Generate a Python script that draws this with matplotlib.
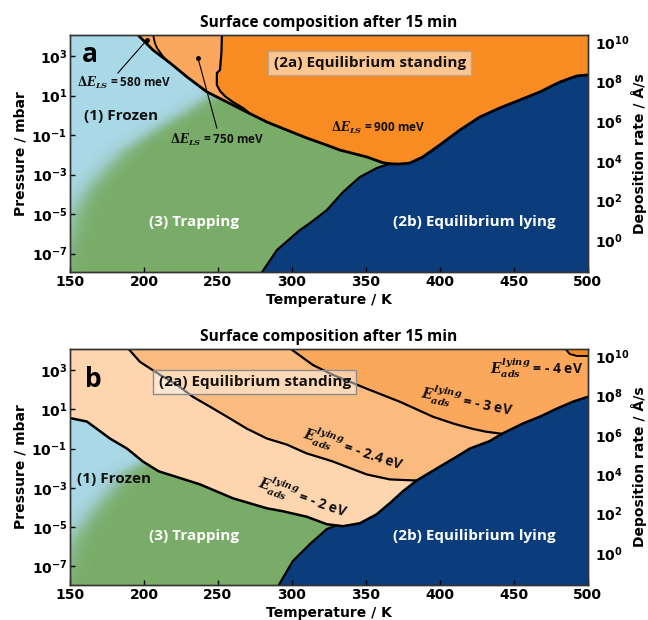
import numpy as np
import matplotlib
matplotlib.use("Agg")
import matplotlib.pyplot as plt
from matplotlib.colors import LinearSegmentedColormap
from matplotlib.ticker import FixedLocator, FixedFormatter, NullLocator

plt.rcParams.update({
    "font.family": ["DejaVu Sans"],
    "mathtext.fontset": "custom",
    "mathtext.rm": "DejaVu Serif:bold",
    "mathtext.it": "DejaVu Serif:italic:bold",
    "mathtext.bf": "DejaVu Serif:bold",
    "mathtext.sf": "DejaVu Sans:bold",
})

LABEL_FONT = ["Open Sans", "DejaVu Sans"]

# ---------------------------------------------------------------- ranges
T_MIN, T_MAX = 150, 500
LP_MIN, LP_MAX = -7.94, 4.06          # log10(p / mbar)
RATE_SHIFT = 6.3                      # log10(rate / (Å/s)) - log10(p / mbar)

# ---------------------------------------------------------------- colours
C_FROZEN = "#A9D8E7"
C_TRAP = "#79AC68"
C_LYING = "#0B3D7D"
C_STAND = "#F98B23"
C_STAND_LIGHT = "#FBA85E"
C_PEACH = "#FDD5AE"
C_PEACH_MID = "#FCBB7E"
C_PEACH_DARK = "#FBA75C"

# ================================================================ panel a
# boundary of the standing phase (frozen/trapping side, then lying side)
a_stand_T = [195.5, 197.3, 206.1, 217.6, 229.1, 242.6, 256.1, 269.6, 283.1,
             296.6, 310.1, 323.6, 332.4, 350.7, 361.5, 366.2, 372.0, 379.7,
             388.5, 400.0, 413.5, 427.0, 440.5, 454.0, 467.6, 481.1, 492.6, 500.0]
a_stand_lp = [4.10, 3.96, 3.30, 2.65, 1.94, 1.18, 0.67, 0.16, -0.34,
              -0.75, -1.15, -1.51, -1.76, -2.11, -2.40, -2.45, -2.47, -2.42,
              -2.11, -1.50, -0.75, -0.09, 0.37, 0.77, 1.18, 1.68, 1.99, 2.04]
a_join_T = 366.2

# trapping / lying boundary
a_lying_T = [278.4, 289.9, 305.4, 312.2, 323.6, 334.5, 345.9, 357.4, 366.2]
a_lying_lp = [-8.10, -6.82, -5.81, -5.46, -4.80, -3.89, -3.13, -2.67, -2.45]

# ΔE_LS = 900 meV boundary
a_900_T = [252.7, 252.4, 251.4, 249.3, 249.3, 251.5, 255.0, 260.1, 266.9, 271.6]
a_900_lp = [4.10, 3.20, 2.29, 2.14, 1.53, 1.22, 0.95, 0.67, 0.37, 0.09]

# ΔE_LS = 580 meV boundary
a_580_T = [206.1, 207.4, 208.8, 212.2, 216.2, 217.6]
a_580_lp = [4.10, 3.66, 3.41, 3.05, 2.70, 2.65]

# frozen -> trapping crossover (soft)
a_frozen_T = [262.0, 246.6, 224.3, 204.1, 187.2, 173.6, 162.2, 154.1, 150.0, 140.0]
a_frozen_lp = [2.00, 1.03, 0.01, -0.90, -1.76, -2.77, -3.78, -4.80, -5.81, -8.00]

# marker dots for ΔE_LS labels: (T, log p) of dot, (T, log p) of label end
a_dot580 = (202.0, 3.81)
a_tail580 = (182.4, 2.14)
a_dot750 = (236.5, 2.90)
a_tail750 = (249.3, -0.65)

# ================================================================ panel b
# E_ads = -2 eV boundary (lower edge of standing phase)
b_stand_T = [150.0, 152.0, 161.5, 177.0, 188.5, 199.3, 210.0, 237.8, 260.1,
             283.1, 293.9, 310.1, 323.6, 334.5, 346.0, 357.4, 366.2, 375.0,
             384.5, 398.0, 411.5, 420.3, 433.8, 442.0, 456.1, 467.6, 479.1,
             489.9, 500.0]
b_stand_lp = [0.55, 0.52, 0.37, -0.49, -1.00, -1.66, -2.16, -2.82, -3.53,
              -4.04, -4.19, -4.47, -4.85, -4.95, -4.80, -4.34, -3.78, -3.18,
              -2.62, -2.01, -1.41, -1.00, -0.62, -0.25, 0.27, 0.62, 1.03,
              1.38, 1.63]

b_lying_T = [289.9, 300.7, 312.2, 323.6, 330.0]
b_lying_lp = [-8.10, -6.72, -5.86, -5.10, -4.91]
b_join_T = 330.0

b_24_T = [189.2, 197.3, 210.8, 222.3, 233.1, 244.6, 256.1, 269.6, 283.1,
          296.6, 310.1, 323.6, 327.7, 350.7, 366.2, 381.8, 384.5]
b_24_lp = [4.10, 3.41, 2.75, 2.24, 1.63, 1.13, 0.62, 0.01, -0.49,
           -0.80, -1.25, -1.56, -1.66, -2.32, -2.57, -2.62, -2.62]

b_3_T = [298.6, 314.2, 323.6, 327.7, 350.7, 373.0, 395.3, 410.0, 422.3, 431.0, 442.0]
b_3_lp = [4.10, 3.25, 2.90, 2.75, 2.04, 1.38, 0.62, 0.25, 0.00, -0.14, -0.25]

b_4_T = [484.5, 487.8, 492.6, 500.0]
b_4_lp = [4.10, 3.81, 3.71, 3.71]

b_frozen_T = [205.0, 188.5, 177.0, 165.5, 156.8, 151.4, 140.0]
b_frozen_lp = [-1.50, -2.16, -3.18, -4.19, -5.05, -5.71, -8.00]

# ---------------------------------------------------------------- ticks
x_ticks = [150, 200, 250, 300, 350, 400, 450, 500]
p_ticks = [-7, -5, -3, -1, 1, 3]
rate_ticks = [0, 2, 4, 6, 8, 10]


def dec_label(n):
    return r"$\mathsf{10^{%d}}$" % n


def P(lp):
    return 10.0 ** np.asarray(lp, dtype=float)


cmap_ft = LinearSegmentedColormap.from_list("frozen_trap", [C_FROZEN, C_TRAP])


def soft_background(ax, edge_T, edge_lp, width=4.5):
    T = np.linspace(T_MIN, T_MAX, 500)
    lp = np.linspace(LP_MIN, LP_MAX, 400)
    TT, LL = np.meshgrid(T, lp)
    order = np.argsort(edge_lp)
    Te = np.interp(LL, np.asarray(edge_lp)[order], np.asarray(edge_T)[order])
    s = 1.0 / (1.0 + np.exp(-(TT - Te) / width))
    ax.pcolormesh(T, P(lp), s, cmap=cmap_ft, vmin=0, vmax=1,
                  shading="gouraud", zorder=0, rasterized=True)


def region(ax, T, lp, color):
    ax.fill(T, P(lp), color=color, lw=0, zorder=1)


def edge(ax, T, lp, lw=1.8):
    ax.plot(T, P(lp), color="black", lw=lw, zorder=3,
            solid_capstyle="round", solid_joinstyle="round")


def tail(T, lp, T_from):
    T = np.asarray(T)
    lp = np.asarray(lp)
    m = T >= T_from
    return list(T[m]), list(lp[m])


def style_axes(ax):
    ax.set_xlim(T_MIN, T_MAX)
    ax.set_yscale("log")
    ax.set_ylim(P(LP_MIN), P(LP_MAX))
    ax.xaxis.set_major_locator(FixedLocator(x_ticks))
    ax.yaxis.set_major_locator(FixedLocator([10.0 ** t for t in p_ticks]))
    ax.yaxis.set_major_formatter(FixedFormatter([dec_label(t) for t in p_ticks]))
    ax.yaxis.set_minor_locator(NullLocator())
    ax.tick_params(direction="in", length=3.5, width=1, labelsize=10, pad=2)
    for lab in ax.get_xticklabels() + ax.get_yticklabels():
        lab.set_fontweight("bold")
    ax.set_xlabel("Temperature / K", fontsize=10, fontweight="bold", labelpad=3)
    ax.set_ylabel("Pressure / mbar", fontsize=10, fontweight="bold", labelpad=3)
    for sp in ax.spines.values():
        sp.set_color("#333333")
        sp.set_linewidth(1)
        sp.set_zorder(5)

    rx = ax.twinx()
    rx.set_yscale("log")
    rx.set_ylim(P(LP_MIN + RATE_SHIFT), P(LP_MAX + RATE_SHIFT))
    rx.yaxis.set_major_locator(FixedLocator([10.0 ** t for t in rate_ticks]))
    rx.yaxis.set_major_formatter(FixedFormatter([dec_label(t) for t in rate_ticks]))
    rx.yaxis.set_minor_locator(NullLocator())
    rx.tick_params(length=0, labelsize=10, pad=5)
    rx.set_ylabel("Deposition rate / Å/s", fontsize=10, fontweight="bold", labelpad=1)
    for sp in rx.spines.values():
        sp.set_color("#333333")
        sp.set_linewidth(1)
    ax.set_title("Surface composition after 15 min", family=LABEL_FONT,
                 fontsize=11.2, fontweight="bold", pad=6)


def label(ax, T, lp, s, color="#111111", size=11, **kw):
    ax.text(T, P(lp), s, color=color, fontsize=size, family=LABEL_FONT,
            fontweight="bold", ha="center", va="center", zorder=6, **kw)


fig = plt.figure(figsize=(6.48, 6.2), dpi=100)
ax_a = fig.add_axes([0.108, 0.561, 0.799, 0.3825])
ax_b = fig.add_axes([0.108, 0.0565, 0.799, 0.3805])

TOP = LP_MAX + 1
BOT = LP_MIN - 1

# ---------------------------------------------------------------- draw a
ax = ax_a
soft_background(ax, a_frozen_T, a_frozen_lp)
region(ax, a_stand_T + [T_MAX + 5, a_stand_T[0]], a_stand_lp + [TOP, TOP], C_STAND_LIGHT)
tT, tL = tail(a_stand_T, a_stand_lp, a_900_T[-1] + 0.01)
region(ax, a_900_T + tT + [T_MAX + 5, a_900_T[0]], a_900_lp + tL + [TOP, TOP], C_STAND)
tT, tL = tail(a_stand_T, a_stand_lp, a_join_T)
region(ax, a_lying_T + tT[1:] + [T_MAX + 5, T_MAX + 5, a_lying_T[0]],
       a_lying_lp + tL[1:] + [tL[-1], BOT, BOT], C_LYING)
edge(ax, a_stand_T, a_stand_lp, 2.0)
edge(ax, a_lying_T, a_lying_lp, 1.6)
edge(ax, a_900_T, a_900_lp, 1.6)
edge(ax, a_580_T, a_580_lp, 1.3)

for dot, tl in ((a_dot580, a_tail580), (a_dot750, a_tail750)):
    ax.plot([dot[0], tl[0]], P([dot[1], tl[1]]), color="black", lw=0.8, zorder=4)
    ax.plot(dot[0], P(dot[1]), "o", color="black", ms=2.5, zorder=4)

label(ax, 186.5, 1.63, r"$\Delta E_{LS}$ = 580 meV", size=8.5)
label(ax, 249.3, -1.25, r"$\Delta E_{LS}$ = 750 meV", size=8.5)
label(ax, 358.1, -0.65, r"$\Delta E_{LS}$ = 900 meV", size=8.5)
label(ax, 352.7, 2.65, "(2a) Equilibrium standing",
      bbox=dict(boxstyle="square,pad=0.35", fc="#FDC590", ec="#C0A48A", lw=1))
label(ax, 184.5, -0.04, "(1) Frozen")
label(ax, 233.8, -5.41, "(3) Trapping", color="white")
label(ax, 423.6, -5.41, "(2b) Equilibrium lying", color="white")
ax.text(163.5, P(3.05), "a", fontsize=19, fontweight="bold", family=LABEL_FONT,
        ha="center", va="center", zorder=6)
style_axes(ax)

# ---------------------------------------------------------------- draw b
ax = ax_b
soft_background(ax, b_frozen_T, b_frozen_lp)
region(ax, b_stand_T + [T_MAX + 5, T_MIN - 5, T_MIN - 5],
       b_stand_lp + [TOP, TOP, b_stand_lp[0]], C_PEACH)
for lT, lL, col in ((b_24_T, b_24_lp, C_PEACH_MID), (b_3_T, b_3_lp, C_PEACH_DARK)):
    tT, tL = tail(b_stand_T, b_stand_lp, lT[-1] + 0.01)
    region(ax, lT + tT + [T_MAX + 5, lT[0]], lL + tL + [TOP, TOP], col)
region(ax, b_4_T + [T_MAX + 5, T_MAX + 5, b_4_T[0]], b_4_lp + [b_4_lp[-1], TOP, TOP], C_STAND)
tT, tL = tail(b_stand_T, b_stand_lp, b_join_T)
region(ax, b_lying_T + tT + [T_MAX + 5, T_MAX + 5, b_lying_T[0]],
       b_lying_lp + tL + [tL[-1], BOT, BOT], C_LYING)
edge(ax, b_stand_T, b_stand_lp, 1.8)
edge(ax, b_lying_T, b_lying_lp, 1.6)
edge(ax, b_24_T, b_24_lp, 1.6)
edge(ax, b_3_T, b_3_lp, 1.6)
edge(ax, b_4_T, b_4_lp, 1.4)

label(ax, 275.0, 2.39, "(2a) Equilibrium standing",
      bbox=dict(boxstyle="square,pad=0.35", fc=(1, 1, 1, 0.45), ec="#8C8C8C", lw=1))
label(ax, 179.7, -2.57, "(1) Frozen")
label(ax, 233.8, -5.46, "(3) Trapping", color="white")
label(ax, 423.6, -5.46, "(2b) Equilibrium lying", color="white")
ax.text(165.5, P(2.49), "b", fontsize=19, fontweight="bold", family=LABEL_FONT,
        ha="center", va="center", zorder=6)
eads = r"$E_{ads}^{lying}$"
label(ax, 307.4, -3.48, eads + " = - 2 eV", size=10, rotation=-19, rotation_mode="anchor")
label(ax, 341.9, -1.05, eads + " = - 2.4 eV", size=10, rotation=-18, rotation_mode="anchor")
label(ax, 418.2, 1.38, eads + " = - 3 eV", size=10, rotation=-11, rotation_mode="anchor")
label(ax, 465.5, 3.10, eads + " = - 4 eV", size=10)
style_axes(ax)

fig.savefig("out.png", dpi=100)
